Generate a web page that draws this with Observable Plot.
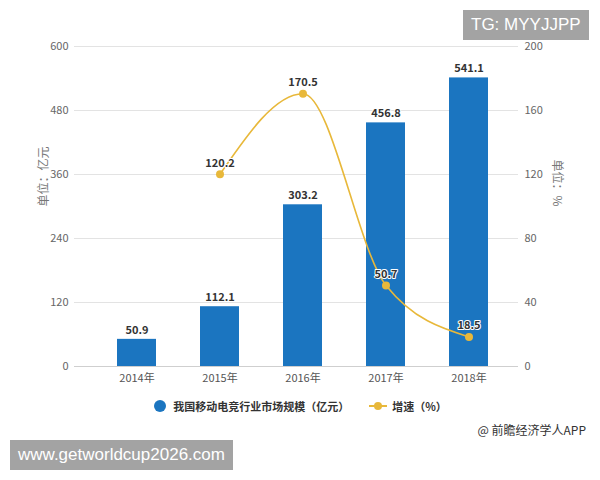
<!DOCTYPE html>
<html><head><meta charset="utf-8">
<script src="https://cdn.jsdelivr.net/npm/d3@7"></script>
<script src="https://cdn.jsdelivr.net/npm/@observablehq/plot@0.6"></script>
<style>
body{margin:0;background:#fff;font-family:"Noto Sans CJK SC","Noto Sans",sans-serif;}
#wrap{position:relative;width:600px;height:480px;overflow:hidden;}
#chart{position:absolute;left:0;top:0;}
.legend{position:absolute;top:398px;left:0;width:600px;display:flex;justify-content:center;align-items:center;font-size:11px;color:#333;font-weight:bold;}
.legend .item{display:flex;align-items:center;margin:0 10px;}
.src{position:absolute;top:421px;right:14px;font-size:12px;color:#333;}
.wm{position:absolute;background:#a3a3a3;color:#fff;font-family:"Liberation Sans",Arial,sans-serif;font-size:17px;line-height:30px;padding:0 8px;}
</style></head>
<body><div id="wrap"><div id="chart"></div>
<div class="legend">
 <div class="item"><svg width="14" height="14"><circle cx="7" cy="7" r="6" fill="#1b75c0"/></svg><span style="margin-left:6px">我国移动电竞行业市场规模（亿元）</span></div>
 <div class="item"><svg width="18" height="10"><line x1="0" y1="5" x2="18" y2="5" stroke="#e8b83a" stroke-width="2"/><circle cx="9" cy="5" r="4" fill="#e8b83a"/></svg><span style="margin-left:5px">增速（%）</span></div>
</div>
<div class="src">@ 前瞻经济学人APP</div>
<div class="wm" style="left:463px;top:10px;">TG: MYYJJPP</div>
<div class="wm" style="left:10px;top:440px;">www.getworldcup2026.com</div>
</div>
<script>
const years = ["2014年","2015年","2016年","2017年","2018年"];
const marketSize = [50.9, 112.1, 303.2, 456.8, 541.1];
const growth = [null, 120.2, 170.5, 50.7, 18.5];
const leftTicks = [0,120,240,360,480,600];
const rightTicks = [0,40,80,120,160,200];
const ratio = 600/200;

const bars = years.map((y,i)=>({year:y, v:marketSize[i]}));
const pts = years.map((y,i)=>({year:y, g:growth[i]})).filter(d=>d.g!=null);

const chart = Plot.plot({
  width:600, height:390,
  marginLeft:74, marginRight:82, marginTop:46, marginBottom:24,
  style:{fontFamily:'"Noto Sans CJK SC","Noto Sans",sans-serif', fontSize:"11px", color:"#666", background:"#fff"},
  x:{domain:years, paddingInner:0.53, paddingOuter:0.265, insetLeft:21, insetRight:8, label:null},
  y:{domain:[0,600], label:null},
  marks:[
    Plot.gridY(leftTicks,{stroke:"#e3e3e3", strokeOpacity:1}),
    Plot.axisY({ticks:leftTicks, tickSize:0, tickPadding:6, label:null, fill:"#666"}),
    Plot.axisY({anchor:"right", ticks:rightTicks.map(v=>v*ratio), tickFormat:d=>String(Math.round(d/ratio)), tickSize:0, tickPadding:6, label:null, fill:"#666"}),
    Plot.axisX({tickSize:0, tickPadding:8, label:null, fill:"#555", fontSize:11}),
    Plot.barY(bars,{x:"year", y:"v", fill:"#1b75c0"}),
    Plot.ruleY([0],{stroke:"#cfcfcf"}),
    Plot.text(bars,{x:"year", y:"v", text:d=>d.v.toFixed(1), dy:-9, fill:"#333", fontWeight:"bold", fontSize:11, stroke:"#fff", strokeWidth:2}),
    Plot.line(pts,{x:"year", y:d=>d.g*ratio, stroke:"#e8b83a", strokeWidth:1.6, curve:"monotone-x"}),
    Plot.dot(pts,{x:"year", y:d=>d.g*ratio, r:4, fill:"#e8b83a"}),
    Plot.text(pts,{x:"year", y:d=>d.g*ratio, text:d=>d.g.toFixed(1), dy:-11, fill:"#333", fontWeight:"bold", fontSize:11, stroke:"#fff", strokeWidth:2}),
    Plot.text(["单位：亿元"],{frameAnchor:"left", dx:-30, rotate:-90, fill:"#777", fontSize:12}),
    Plot.text(["单位：%"],{frameAnchor:"right", dx:38, rotate:90, fill:"#777", fontSize:12})
  ]
});
document.getElementById("chart").appendChild(chart);
</script>
</body></html>
